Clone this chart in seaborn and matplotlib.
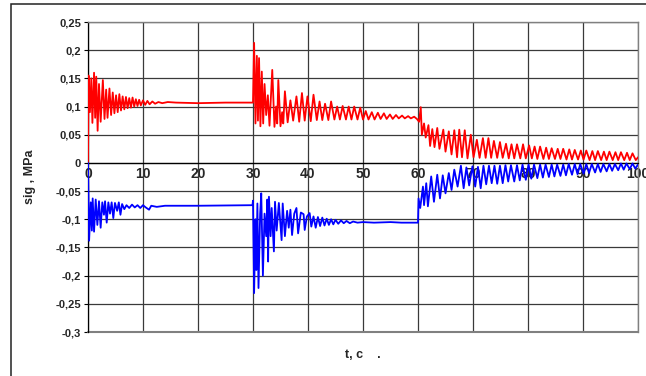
import pandas as pd
import matplotlib
matplotlib.use('Agg')
import matplotlib.pyplot as plt
from matplotlib.patches import Rectangle
import seaborn as sns

# stress in the two elements, MPa (peaks / troughs)
red_t = [0, 0.1, 0.35, 0.6, 0.8, 1.1, 1.3, 1.5, 1.75, 2.0, 2.3, 2.7, 3.0, 3.3, 3.55, 3.9, 4.2, 4.5,
         4.8, 5.1, 5.4, 5.7, 6.0, 6.3, 6.6, 6.9, 7.2, 7.5, 7.8, 8.1, 8.4, 8.7, 9.0, 9.3, 9.6, 10.0,
         10.4, 10.8, 11.2, 11.7, 12.2, 12.8, 13.5, 14.5, 16, 20, 25, 29.9,
         30.0, 30.2, 30.45, 30.7, 30.9, 31.1, 31.35, 31.6, 31.85, 32.1, 32.4, 32.7, 33.0, 33.5,
         33.9, 34.2, 34.4, 34.6, 35.0, 35.3, 35.5, 35.8, 36.3, 36.8, 37.3, 37.9, 38.4, 38.9, 39.4,
         39.9, 40.5, 41.0, 41.6, 42.1, 42.6, 43.1, 43.7, 44.2, 44.8, 45.3, 45.8, 46.3, 46.9, 47.4,
         47.9, 48.4, 49.0, 49.5, 50.0, 50.5, 51.0, 51.6, 52.1, 52.7, 53.2, 53.8, 54.3, 54.9, 55.4,
         56.0, 56.5, 57.1, 57.6, 58.2, 58.7, 59.3, 59.8,
         60.2, 60.5, 60.7, 61.1, 61.4, 61.9, 62.2, 62.6, 63.0, 63.5, 63.9, 64.6, 65.0, 65.6, 66.1,
         66.6, 67.1, 67.5, 68.0, 68.5, 69.0, 69.6, 70.1, 70.7, 71.2, 71.8, 72.3, 72.8, 73.3, 73.8,
         74.4, 74.9, 75.4, 76.0, 76.5, 77.0, 77.5, 78.0, 78.6, 79.1, 79.6, 80.2, 80.7, 81.2, 81.7,
         82.2, 82.8, 83.3, 83.8, 84.3, 84.9, 85.4, 85.9, 86.4, 87.0, 87.5, 88.0, 88.5, 89.1, 89.6,
         90.1, 90.6, 91.2, 91.7, 92.2, 92.7, 93.3, 93.8, 94.3, 94.8, 95.4, 95.9, 96.4, 96.9, 97.5,
         98.0, 98.5, 99.0, 99.6, 100]
red_sig = [0, 0.155, 0.09, 0.15, 0.071, 0.160, 0.08, 0.153, 0.057, 0.14, 0.073, 0.147, 0.078, 0.13,
           0.08, 0.132, 0.085, 0.125, 0.088, 0.12, 0.09, 0.122, 0.093, 0.118, 0.095, 0.117, 0.097,
           0.115, 0.098, 0.116, 0.1, 0.113, 0.101, 0.112, 0.102, 0.111, 0.103, 0.11, 0.104, 0.109,
           0.105, 0.108, 0.106, 0.108, 0.107, 0.106, 0.107, 0.107,
           0.107, 0.213, 0.07, 0.19, 0.075, 0.186, 0.065, 0.162, 0.07, 0.14, 0.085, 0.12, 0.066,
           0.165, 0.064, 0.1, 0.07, 0.147, 0.065, 0.09, 0.07, 0.127, 0.072, 0.111, 0.075, 0.118,
           0.073, 0.124, 0.075, 0.118, 0.074, 0.121, 0.076, 0.109, 0.076, 0.105, 0.076, 0.109,
           0.077, 0.1, 0.077, 0.101, 0.077, 0.1, 0.077, 0.1, 0.077, 0.098, 0.077, 0.092, 0.077,
           0.09, 0.077, 0.089, 0.078, 0.088, 0.078, 0.086, 0.078, 0.085, 0.079, 0.084, 0.079, 0.083,
           0.079, 0.082, 0.078,
           0.073, 0.099, 0.05, 0.07, 0.045, 0.067, 0.03, 0.06, 0.028, 0.062, 0.025, 0.059, 0.02,
           0.056, 0.015, 0.058, 0.01, 0.059, 0.01, 0.058, 0.008, 0.05, 0.01, 0.041, 0.009, 0.044,
           0.009, 0.044, 0.009, 0.039, 0.009, 0.037, 0.009, 0.034, 0.008, 0.033, 0.008, 0.033,
           0.008, 0.033, 0.008, 0.031, 0.008, 0.029, 0.007, 0.029, 0.007, 0.027, 0.007, 0.026,
           0.007, 0.025, 0.007, 0.025, 0.006, 0.024, 0.006, 0.023, 0.006, 0.022, 0.006, 0.022,
           0.005, 0.021, 0.005, 0.021, 0.005, 0.02, 0.005, 0.02, 0.005, 0.019, 0.005, 0.019, 0.005,
           0.018, 0.005, 0.017, 0.005, 0.01]

blue_t = [0, 0.2, 0.5, 0.7, 0.85, 1.1, 1.4, 1.7, 2.0, 2.3, 2.6, 2.9, 3.1, 3.4, 3.7, 4.0, 4.3, 4.6,
          4.9, 5.3, 5.6, 5.9, 6.2, 6.6, 7.0, 7.5, 8.0, 8.5, 9.0, 9.5, 10.0, 10.5, 11.1, 11.5, 12.5,
          14, 20, 29.9,
          30.0, 30.2, 30.45, 30.6, 30.8, 31.0, 31.3, 31.5, 31.8, 32.1, 32.4, 32.6, 32.75, 32.9,
          33.2, 33.4, 33.8, 34.0, 34.3, 34.7, 35.2, 35.4, 35.8, 36.2, 36.5, 36.8, 37.1, 37.5, 37.9,
          38.2, 38.7, 39.2, 39.4, 39.8, 40.3, 40.6, 41.0, 41.4, 41.8, 42.2, 42.6, 43.0, 43.4, 43.8,
          44.2, 44.6, 45.0, 45.5, 46.0, 46.5, 47.0, 47.6, 48.2, 49.0, 50, 52, 55, 57, 60.0,
          60.1, 60.4, 60.9, 61.1, 61.5, 61.8, 62.4, 62.9, 63.5, 64.0, 64.5, 65.0, 65.6, 66.1, 66.6,
          67.2, 67.8, 68.3, 68.8, 69.3, 69.9, 70.4, 70.9, 71.4, 71.9, 72.4, 72.9, 73.4, 73.9, 74.4,
          74.9, 75.4, 75.9, 76.4, 76.9, 77.5, 78.0, 78.5, 79.0, 79.6, 80.1, 80.6, 81.1, 81.7, 82.2,
          82.7, 83.2, 83.8, 84.3, 84.8, 85.3, 85.9, 86.4, 86.9, 87.4, 88.0, 88.5, 89.0, 89.5, 90.1,
          90.6, 91.1, 91.6, 92.2, 92.7, 93.2, 93.7, 94.3, 94.8, 95.3, 95.8, 96.4, 96.9, 97.4, 97.9,
          98.5, 99.0, 99.5, 100]
blue_sig = [0, -0.138, -0.07, -0.12, -0.063, -0.122, -0.065, -0.11, -0.068, -0.115, -0.07, -0.092,
            -0.068, -0.106, -0.07, -0.09, -0.07, -0.098, -0.071, -0.085, -0.07, -0.092, -0.073,
            -0.082, -0.075, -0.08, -0.074, -0.079, -0.075, -0.08, -0.075, -0.079, -0.083, -0.076,
            -0.078, -0.076, -0.076, -0.075,
            -0.067, -0.231, -0.1, -0.19, -0.072, -0.222, -0.09, -0.054, -0.2, -0.09, -0.13, -0.065,
            -0.175, -0.06, -0.13, -0.08, -0.157, -0.069, -0.12, -0.071, -0.137, -0.072, -0.13,
            -0.085, -0.115, -0.083, -0.128, -0.09, -0.08, -0.125, -0.088, -0.091, -0.119, -0.095,
            -0.089, -0.113, -0.095, -0.115, -0.096, -0.112, -0.097, -0.111, -0.099, -0.11, -0.1,
            -0.109, -0.101, -0.108, -0.102, -0.107, -0.103, -0.107, -0.104, -0.106, -0.105, -0.106,
            -0.105, -0.106, -0.106,
            -0.063, -0.08, -0.042, -0.075, -0.036, -0.077, -0.024, -0.069, -0.021, -0.063, -0.022,
            -0.054, -0.018, -0.048, -0.012, -0.042, -0.005, -0.045, -0.008, -0.04, -0.006, -0.042,
            -0.007, -0.045, -0.005, -0.038, -0.005, -0.036, -0.005, -0.037, -0.005, -0.036, -0.004,
            -0.033, -0.004, -0.033, -0.004, -0.031, -0.003, -0.03, -0.003, -0.028, -0.003, -0.027,
            -0.003, -0.026, -0.003, -0.025, -0.003, -0.024, -0.003, -0.023, -0.003, -0.022, -0.002,
            -0.021, -0.002, -0.02, -0.002, -0.019, -0.002, -0.018, -0.002, -0.017, -0.002, -0.016,
            -0.002, -0.015, -0.002, -0.014, -0.002, -0.013, -0.001, -0.012, -0.001, -0.011, -0.001,
            -0.01, -0.003]

y_ticks = [0.25, 0.2, 0.15, 0.1, 0.05, 0, -0.05, -0.1, -0.15, -0.2, -0.25, -0.3]
y_labels = ['0,25', '0,2', '0,15', '0,1', '0,05', '0', '-0,05', '-0,1', '-0,15', '-0,2', '-0,25', '-0,3']
x_ticks = [0, 10, 20, 30, 40, 50, 60, 70, 80, 90, 100]

sns.set_style('white')
plt.rcParams['font.family'] = ['Liberation Sans', 'DejaVu Sans']
plt.rcParams['font.weight'] = 'bold'

fig = plt.figure(figsize=(6.46, 3.76), dpi=100)
ax = fig.add_axes([88 / 646, 1 - 332 / 376, 550 / 646, 310 / 376])

red = pd.DataFrame({'t': red_t, 'sig': red_sig})
blue = pd.DataFrame({'t': blue_t, 'sig': blue_sig})
sns.lineplot(data=red, x='t', y='sig', color='#ff0000', lw=1.3, sort=False, estimator=None, ax=ax, zorder=3)
sns.lineplot(data=blue, x='t', y='sig', color='#0000ff', lw=1.3, sort=False, estimator=None, ax=ax, zorder=3)

ax.set_xlim(0, 100)
ax.set_ylim(-0.3, 0.25)

# grid
for yv in y_ticks:
    ax.axhline(yv, color='#3a3a3a', lw=0.9, zorder=1)
for xv in x_ticks:
    ax.axvline(xv, color='#3a3a3a', lw=0.9, zorder=1)

ax.set_yticks(y_ticks)
ax.set_yticklabels(y_labels, fontsize=8, fontweight='bold')
ax.set_xticks(x_ticks)
ax.set_xticklabels([str(v) for v in x_ticks], fontsize=7.5, fontweight='bold')
ax.tick_params(axis='y', direction='out', length=3, width=0.8, color='black', pad=2, left=True)
ax.tick_params(axis='x', length=0, pad=3)
ax.spines['bottom'].set_position(('data', 0))
ax.spines['bottom'].set_color('black')
ax.spines['bottom'].set_linewidth(0.9)
ax.spines['left'].set_color('black')
ax.spines['left'].set_linewidth(0.9)
for s in ['top', 'right']:
    ax.spines[s].set_color('#808080')
    ax.spines[s].set_linewidth(1.0)
ax.axhline(-0.3, color='#808080', lw=1.5, zorder=2, clip_on=False)

ax.set_xlabel('')
ax.set_ylabel('')
fig.text(30 / 646, 1 - 177 / 376, 'sig , MPa', rotation=90, ha='center', va='center',
         fontsize=9, fontweight='bold')
fig.text(363 / 646, 1 - 355 / 376, 't, c    .', ha='center', va='center',
         fontsize=9, fontweight='bold')

# outer chart frame (runs off the right and bottom edges)
fig.patches.append(Rectangle((11 / 646, -0.2), 1.5, 1 - 4 / 376 + 0.2, transform=fig.transFigure,
                             fill=False, edgecolor='#222222', lw=1.1))

fig.savefig('out.png', dpi=100)
